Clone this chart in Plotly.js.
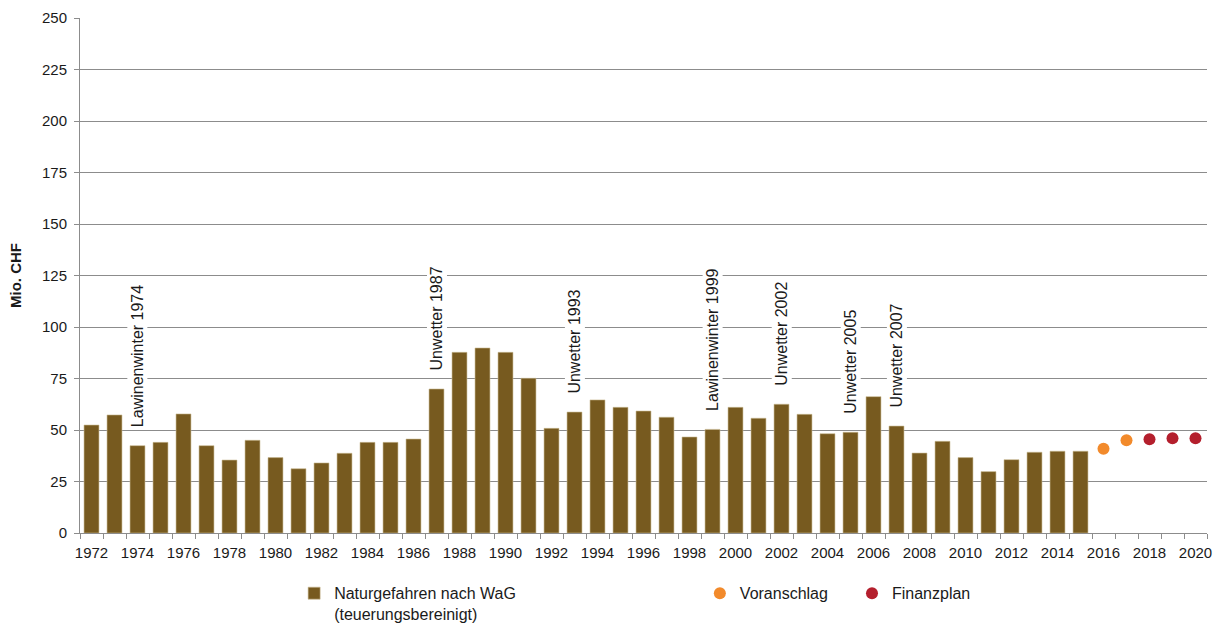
<!DOCTYPE html>
<html>
<head>
<meta charset="utf-8">
<script src="https://cdn.plot.ly/plotly-3.0.1.min.js"></script>
<style>html,body{margin:0;padding:0;background:#fff;}#chart{width:1222px;height:625px;}</style>
</head>
<body>
<div id="chart"></div>
<script>
// ---- data ----
const barYears = [1972,1973,1974,1975,1976,1977,1978,1979,1980,1981,1982,1983,1984,1985,1986,1987,1988,1989,1990,1991,1992,1993,1994,1995,1996,1997,1998,1999,2000,2001,2002,2003,2004,2005,2006,2007,2008,2009,2010,2011,2012,2013,2014,2015];
const barValues = [52.4,57.3,42.4,44.0,57.8,42.4,35.4,45.0,36.6,31.2,34.0,38.7,44.0,44.0,45.6,69.9,87.7,89.8,87.7,75.1,50.8,58.7,64.6,61.0,59.2,56.2,46.6,50.3,61.0,55.7,62.5,57.6,48.2,48.9,66.2,51.9,38.8,44.5,36.6,29.8,35.6,39.2,39.7,39.7];
const budgetYears = [2016,2017];
const budgetValues = [40.9,45.0];
const planYears = [2018,2019,2020];
const planValues = [45.5,46.0,46.0];
const eventYears = [1974,1987,1993,1999,2002,2005,2007];
const eventLabels = ["Lawinenwinter 1974","Unwetter 1987","Unwetter 1993","Lawinenwinter 1999","Unwetter 2002","Unwetter 2005","Unwetter 2007"];
const tickYears = [1972,1974,1976,1978,1980,1982,1984,1986,1988,1990,1992,1994,1996,1998,2000,2002,2004,2006,2008,2010,2012,2014,2016,2018,2020];
const yTicks = [0,25,50,75,100,125,150,175,200,225,250];
const seriesNames = ["Naturgefahren nach WaG<br>(teuerungsbereinigt)","Voranschlag","Finanzplan"];

const FONT = "Liberation Sans, Arial, sans-serif";
const TXT = "#1a1a1a";

const traces = [
  {type:'bar', x:barYears, y:barValues, name:seriesNames[0], legend:'legend',
   marker:{color:'#775a1f', line:{color:'#c9bb92', width:0.6}}, hoverinfo:'x+y'},
  {type:'scatter', mode:'markers', x:budgetYears, y:budgetValues, name:seriesNames[1], legend:'legend2',
   marker:{color:'#f28a2b', size:12}},
  {type:'scatter', mode:'markers', x:planYears, y:planValues, name:seriesNames[2], legend:'legend3',
   marker:{color:'#b41f2d', size:12}}
];

const annotations = eventYears.map((yr,i)=>({
  x: yr, y: barValues[barYears.indexOf(yr)], xref:'x', yref:'y',
  text: eventLabels[i], textangle:-90, showarrow:false,
  xanchor:'center', yanchor:'bottom', yshift:16,
  bgcolor:'#ffffff', borderpad:1,
  font:{family:FONT, size:16, color:TXT}
}));

const legBase = {orientation:'h', yref:'container', xref:'paper', yanchor:'top', xanchor:'left', y:0.078,
  font:{family:FONT, size:16, color:TXT}, bgcolor:'rgba(0,0,0,0)', valign:'top', itemwidth:30};

const layout = {
  width:1222, height:625,
  margin:{l:80, r:15, t:18, b:92},
  paper_bgcolor:'#fff', plot_bgcolor:'#fff',
  font:{family:FONT, size:15, color:TXT},
  bargap:0.35,
  showlegend:true,
  legend:Object.assign({}, legBase, {x:0.19}),
  legend2:Object.assign({}, legBase, {x:0.55}),
  legend3:Object.assign({}, legBase, {x:0.685}),
  xaxis:{
    range:[1971.5,2020.5], tickmode:'array', tickvals:tickYears, ticktext:tickYears.map(String),
    ticks:'outside', ticklen:0, tickcolor:'#8c8c8c', showgrid:false, zeroline:false, automargin:false, ticklabelstandoff:6,
    showline:true, linecolor:'#8c8c8c', linewidth:1,
    tickfont:{family:FONT, size:15, color:TXT},
    minor:{tick0:1971.5, dtick:1, ticks:'outside', ticklen:5, tickcolor:'#8c8c8c', showgrid:false}
  },
  yaxis:{
    range:[0,250], tickmode:'array', tickvals:yTicks, automargin:'left', ticklabelstandoff:4,
    ticks:'outside', ticklen:5, tickcolor:'#8c8c8c',
    showgrid:true, gridcolor:'#8c8c8c', gridwidth:1, zeroline:false,
    showline:true, linecolor:'#8c8c8c', linewidth:1,
    tickfont:{family:FONT, size:15, color:TXT},
    title:{text:'Mio. CHF', font:{family:FONT, size:15, color:TXT, weight:'bold'}, standoff:16}
  },
  annotations: annotations
};

Plotly.newPlot('chart', traces, layout, {displayModeBar:false, staticPlot:true});
</script>
</body>
</html>
